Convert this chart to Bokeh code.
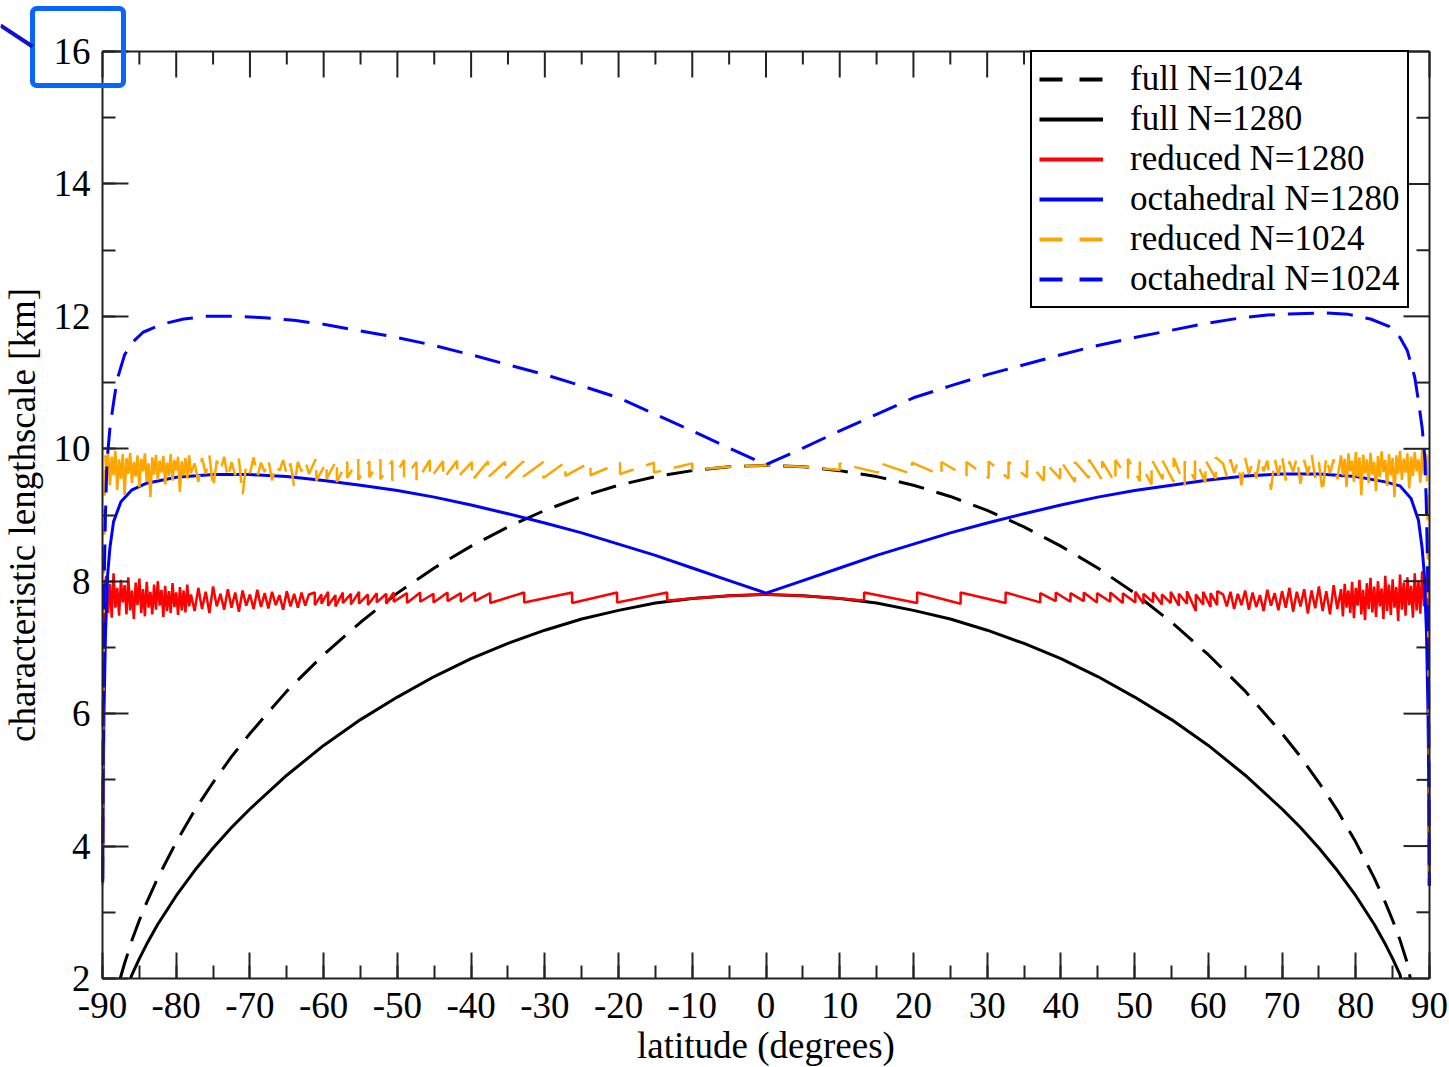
from bokeh.plotting import figure
from bokeh.models import (LinearAxis, Range1d, FixedTicker, Legend, LegendItem,
                          BoxAnnotation, Arrow)
from bokeh.embed import file_html
from bokeh.resources import INLINE
import math

SERIF = "Liberation Serif"

# ---------------------------------------------------------------- data
# full Gaussian grids (smooth curves, down to the bottom of the axis)
LAT_FULL_1024 = [-87.6, -87.0, -86.0, -85.0, -84.0, -82.5, -80.0, -77.5, -75.0, -72.5,
                 -70.0, -65.0, -60.0, -55.0, -50.0, -45.0, -40.0, -35.0, -30.0, -25.0,
                 -20.0, -15.0, -10.0, -5.0, 0.0, 5.0, 10.0, 15.0, 20.0, 25.0,
                 30.0, 35.0, 40.0, 45.0, 50.0, 55.0, 60.0, 65.0, 70.0, 72.5,
                 75.0, 77.5, 80.0, 82.5, 84.0, 85.0, 86.0, 87.0, 87.4]
FULL_1024 = [2.00, 2.23, 2.58, 2.88, 3.15, 3.52, 4.06, 4.54, 4.96, 5.35,
             5.70, 6.34, 6.89, 7.38, 7.82, 8.20, 8.53, 8.82, 9.07, 9.28,
             9.45, 9.58, 9.67, 9.73, 9.75, 9.73, 9.67, 9.58, 9.45, 9.28,
             9.07, 8.82, 8.53, 8.20, 7.82, 7.38, 6.89, 6.34, 5.70, 5.35,
             4.96, 4.54, 4.06, 3.52, 3.15, 2.88, 2.58, 2.23, 2.00]
LAT_FULL_1280 = [-86.2, -86.0, -85.0, -84.0, -82.5, -80.0, -77.5, -75.0, -72.5, -70.0,
                 -65.0, -60.0, -55.0, -50.0, -45.0, -40.0, -35.0, -30.0, -25.0, -20.0,
                 -15.0, -10.0, -5.0, 0.0, 5.0, 10.0, 15.0, 20.0, 25.0, 30.0,
                 35.0, 40.0, 45.0, 50.0, 55.0, 60.0, 65.0, 70.0, 72.5, 75.0,
                 77.5, 80.0, 82.5, 84.0, 85.0, 86.0, 86.1]
FULL_1280 = [2.00, 2.06, 2.30, 2.52, 2.82, 3.25, 3.63, 3.97, 4.28, 4.56,
             5.07, 5.52, 5.91, 6.25, 6.56, 6.83, 7.06, 7.26, 7.43, 7.56,
             7.67, 7.74, 7.78, 7.80, 7.78, 7.74, 7.67, 7.56, 7.43, 7.26,
             7.06, 6.83, 6.56, 6.25, 5.91, 5.52, 5.07, 4.56, 4.28, 3.97,
             3.63, 3.25, 2.82, 2.52, 2.30, 2.06, 2.00]

# octahedral grids
LAT_OCT_1280 = [-89.97, -89.9, -89.8, -89.6, -89.3, -89.0, -88.5, -87.5, -86.0, -84.0,
                -80.0, -75.0, -70.0, -65.0, -60.0, -55.0, -50.0, -45.0, -40.0, -35.0,
                -30.0, -25.0, -20.0, -15.0, -10.0, -5.0, 0.0, 5.0, 10.0, 15.0,
                20.0, 25.0, 30.0, 35.0, 40.0, 45.0, 50.0, 55.0, 60.0, 65.0,
                70.0, 75.0, 80.0, 84.0, 86.0, 87.5, 88.5, 89.0, 89.3, 89.6,
                89.8, 89.9, 89.97]
OCT_1280 = [3.50, 5.00, 6.00, 7.20, 8.10, 8.50, 8.90, 9.20, 9.38, 9.48,
            9.57, 9.61, 9.61, 9.58, 9.52, 9.45, 9.37, 9.27, 9.15, 9.02,
            8.88, 8.73, 8.56, 8.39, 8.20, 8.01, 7.82, 8.01, 8.20, 8.39,
            8.56, 8.73, 8.88, 9.02, 9.15, 9.27, 9.37, 9.45, 9.53, 9.59,
            9.62, 9.62, 9.58, 9.50, 9.44, 9.25, 8.92, 8.50, 8.10, 7.20,
            6.00, 5.00, 3.40]

LAT_OCT_1024 = [-89.97, -89.9, -89.8, -89.6, -89.4, -89.0, -88.5, -88.0, -87.0, -86.0,
                -84.5, -82.0, -79.0, -76.0, -72.0, -68.0, -64.0, -60.0, -55.0, -50.0,
                -45.0, -40.0, -35.0, -30.0, -25.0, -20.0, -15.0, -10.0, -5.0, 0.0,
                5.0, 10.0, 15.0, 20.0, 25.0, 30.0, 35.0, 40.0, 45.0, 50.0,
                55.0, 60.0, 64.0, 68.0, 72.0, 76.0, 79.0, 82.0, 84.5, 86.0,
                87.0, 88.0, 88.5, 89.0, 89.4, 89.6, 89.8, 89.9, 89.97]
OCT_1024 = [3.45, 6.00, 7.80, 9.00, 9.80, 10.30, 10.70, 11.05, 11.42, 11.60,
            11.76, 11.88, 11.96, 12.00, 12.00, 11.98, 11.94, 11.88, 11.78, 11.68,
            11.56, 11.42, 11.27, 11.12, 10.95, 10.77, 10.52, 10.27, 10.01, 9.76,
            10.01, 10.27, 10.52, 10.77, 10.95, 11.12, 11.27, 11.42, 11.56, 11.68,
            11.79, 11.90, 11.97, 12.02, 12.04, 12.05, 12.03, 11.96, 11.85, 11.68,
            11.48, 11.08, 10.72, 10.32, 9.82, 9.02, 7.80, 6.00, 3.40]

# reduced grids: polar drop-off, noisy high latitudes, banded mid latitudes
LAT_POLE_S = [-89.97, -89.9, -89.8, -89.7, -89.6]
LAT_POLE_N = [89.6, 89.7, 89.8, 89.9, 89.97]
RED_POLE_S = [3.50, 5.50, 7.20, 7.90, 8.00]
RED_POLE_N = [8.02, 7.95, 7.20, 5.50, 3.45]
ORA_POLE_S = [3.40, 5.80, 8.00, 9.30, 9.90]
ORA_POLE_N = [9.90, 9.30, 8.00, 5.80, 3.40]

# very high latitudes (closely packed rows)
LAT_DENSE_S = [-89.5, -89.25, -89.0, -88.75, -88.5, -88.25, -88.0, -87.75, -87.5, -87.25,
               -87.0, -86.75, -86.5, -86.25, -86.0, -85.75, -85.5, -85.25, -85.0, -84.75,
               -84.5, -84.25, -84.0, -83.75, -83.5, -83.25, -83.0, -82.75, -82.5, -82.25,
               -82.0, -81.75, -81.5, -81.25, -81.0, -80.75, -80.5, -80.25, -80.0, -79.75,
               -79.5, -79.25, -79.0, -78.75, -78.5, -78.25, -78.0]
LAT_DENSE_N = [78.0, 78.25, 78.5, 78.75, 79.0, 79.25, 79.5, 79.75, 80.0, 80.25,
               80.5, 80.75, 81.0, 81.25, 81.5, 81.75, 82.0, 82.25, 82.5, 82.75,
               83.0, 83.25, 83.5, 83.75, 84.0, 84.25, 84.5, 84.75, 85.0, 85.25,
               85.5, 85.75, 86.0, 86.25, 86.5, 86.75, 87.0, 87.25, 87.5, 87.75,
               88.0, 88.25, 88.5, 88.75, 89.0, 89.25, 89.5]
# high latitudes
LAT_MID_S = [-77.5, -77.0, -76.5, -76.0, -75.5, -75.0, -74.5, -74.0, -73.5, -73.0,
             -72.5, -72.0, -71.5, -71.0, -70.5, -70.0, -69.5, -69.0, -68.5, -68.0,
             -67.5, -67.0, -66.5, -66.0, -65.5, -65.0, -64.5, -64.0, -63.5, -63.0,
             -62.5, -62.0]
LAT_MID_N = [62.0, 62.5, 63.0, 63.5, 64.0, 64.5, 65.0, 65.5, 66.0, 66.5,
             67.0, 67.5, 68.0, 68.5, 69.0, 69.5, 70.0, 70.5, 71.0, 71.5,
             72.0, 72.5, 73.0, 73.5, 74.0, 74.5, 75.0, 75.5, 76.0, 76.5,
             77.0, 77.5]

RED_DENSE_S = [8.08, 7.52, 7.96, 7.45, 8.12, 7.60, 7.90, 7.48, 8.02, 7.68,
               7.94, 7.50, 8.06, 7.56, 7.86, 7.43, 7.98, 7.64, 8.04, 7.52,
               7.88, 7.47, 7.99, 7.60, 7.84, 7.50, 7.95, 7.57, 8.00, 7.63,
               7.87, 7.46, 7.93, 7.55, 7.85, 7.52, 7.97, 7.61, 7.83, 7.49,
               7.91, 7.56, 7.86, 7.53, 7.95, 7.62, 7.80]
RED_MID_S = [7.55, 7.90, 7.58, 7.84, 7.52, 7.92, 7.62, 7.81, 7.57, 7.88,
             7.60, 7.83, 7.54, 7.86, 7.63, 7.80, 7.58, 7.87, 7.61, 7.82,
             7.59, 7.84, 7.64, 7.79, 7.57, 7.85, 7.62, 7.81, 7.60, 7.83,
             7.63, 7.80]
RED_MID_N = [7.80, 7.62, 7.84, 7.58, 7.81, 7.64, 7.86, 7.57, 7.83, 7.61,
             7.79, 7.55, 7.87, 7.63, 7.82, 7.56, 7.85, 7.60, 7.90, 7.54,
             7.84, 7.62, 7.88, 7.51, 7.86, 7.59, 7.92, 7.55, 7.85, 7.50,
             7.94, 7.58]
RED_DENSE_N = [7.88, 7.47, 7.96, 7.60, 7.86, 7.52, 7.99, 7.44, 7.90, 7.63,
               8.02, 7.50, 7.87, 7.41, 7.97, 7.58, 8.05, 7.53, 7.92, 7.46,
               8.00, 7.62, 7.89, 7.43, 8.08, 7.55, 7.95, 7.49, 8.03, 7.60,
               7.91, 7.40, 8.10, 7.57, 7.98, 7.48, 8.06, 7.64, 7.93, 7.45,
               8.12, 7.56, 8.01, 7.51, 8.15, 7.62, 8.05]
ORA_DENSE_S = [9.52, 9.95, 9.45, 9.88, 9.60, 9.97, 9.38, 9.84, 9.55, 9.92,
               9.30, 9.86, 9.62, 9.94, 9.48, 9.80, 9.58, 9.90, 9.42, 9.85,
               9.66, 9.93, 9.50, 9.78, 9.27, 9.87, 9.61, 9.91, 9.53, 9.82,
               9.64, 9.89, 9.46, 9.79, 9.59, 9.92, 9.52, 9.83, 9.67, 9.88,
               9.35, 9.81, 9.60, 9.86, 9.55, 9.90, 9.63]
ORA_MID_S = [9.78, 9.50, 9.86, 9.62, 9.90, 9.40, 9.82, 9.66, 9.88, 9.55,
             9.80, 9.60, 9.85, 9.30, 9.77, 9.63, 9.87, 9.58, 9.79, 9.65,
             9.84, 9.52, 9.76, 9.67, 9.83, 9.60, 9.78, 9.42, 9.80, 9.66,
             9.82, 9.62]
ORA_MID_N = [9.78, 9.58, 9.84, 9.64, 9.80, 9.45, 9.86, 9.62, 9.79, 9.55,
             9.88, 9.66, 9.82, 9.38, 9.85, 9.60, 9.90, 9.52, 9.81, 9.65,
             9.87, 9.47, 9.83, 9.61, 9.92, 9.56, 9.80, 9.33, 9.89, 9.63,
             9.84, 9.54]
ORA_DENSE_N = [9.90, 9.60, 9.85, 9.42, 9.93, 9.66, 9.82, 9.50, 9.95, 9.58,
               9.87, 9.30, 9.91, 9.63, 9.84, 9.48, 9.94, 9.61, 9.80, 9.36,
               9.89, 9.57, 9.96, 9.65, 9.83, 9.44, 9.92, 9.60, 9.86, 9.27,
               9.90, 9.62, 9.97, 9.53, 9.85, 9.64, 9.93, 9.40, 9.88, 9.59,
               9.95, 9.66, 9.84, 9.49, 9.98, 9.61, 9.92]

# band edges of the reduced grids: value on the polar side / equatorial side
RED_BAND_LAT_S = [-61.2, -60.3, -59.4, -58.4, -57.4, -56.3, -55.2, -54.0, -52.8, -51.5,
                  -50.5, -48.7, -46.9, -45.1, -43.2, -41.4, -39.5, -37.4, -32.8, -26.3,
                  -20.2, -13.4]
RED_BAND_POLAR_S = [7.83, 7.80, 7.84, 7.79, 7.83, 7.81, 7.84, 7.80, 7.82, 7.81,
                    7.83, 7.82, 7.83, 7.81, 7.83, 7.82, 7.83, 7.82, 7.83, 7.83,
                    7.83, 7.83]
RED_BAND_EQ_S = [7.64, 7.66, 7.63, 7.62, 7.67, 7.65, 7.66, 7.64, 7.68, 7.66,
                 7.69, 7.67, 7.69, 7.68, 7.70, 7.69, 7.70, 7.67, 7.68, 7.67,
                 7.68, 7.71]
RED_BAND_LAT_N = [13.3, 20.5, 26.4, 32.5, 37.2, 39.3, 41.3, 43.1, 44.9, 46.7,
                  48.4, 50.1, 51.2, 52.5, 53.7, 54.9, 56.0, 57.1, 58.3, 59.3,
                  60.3, 61.2]
RED_BAND_EQ_N = [7.71, 7.67, 7.66, 7.67, 7.68, 7.70, 7.69, 7.70, 7.68, 7.69,
                 7.67, 7.68, 7.66, 7.68, 7.65, 7.67, 7.63, 7.66, 7.55, 7.65,
                 7.61, 7.64]
RED_BAND_POLAR_N = [7.83, 7.83, 7.83, 7.83, 7.82, 7.83, 7.82, 7.83, 7.82, 7.83,
                    7.82, 7.84, 7.81, 7.83, 7.80, 7.84, 7.81, 7.85, 7.80, 7.84,
                    7.82, 7.85]
RED_EQ_LAT = [-10.0, -5.0, 0.0, 5.0, 10.0]
RED_EQ = [7.74, 7.78, 7.80, 7.78, 7.74]

ORA_BAND_LAT_S = [-61.0, -59.6, -58.2, -56.8, -55.3, -53.8, -52.3, -50.7, -49.1, -47.4,
                  -45.6, -43.8, -41.9, -39.9, -37.7, -35.4, -32.9, -30.2, -27.2, -23.8,
                  -19.8, -15.2, -10.0]
ORA_BAND_POLAR_S = [9.86, 9.80, 9.84, 9.82, 9.85, 9.81, 9.84, 9.82, 9.83, 9.80,
                    9.83, 9.81, 9.82, 9.80, 9.81, 9.80, 9.81, 9.80, 9.80, 9.80,
                    9.79, 9.79, 9.78]
ORA_BAND_EQ_S = [9.52, 9.55, 9.50, 9.56, 9.53, 9.57, 9.54, 9.52, 9.56, 9.50,
                 9.55, 9.54, 9.56, 9.52, 9.57, 9.55, 9.58, 9.56, 9.59, 9.60,
                 9.62, 9.64, 9.68]
ORA_BAND_LAT_N = [10.0, 15.2, 19.8, 23.8, 27.2, 30.2, 32.9, 35.4, 37.7, 39.9,
                  41.9, 43.8, 45.6, 47.4, 49.1, 50.7, 52.3, 53.8, 55.3, 56.8,
                  58.2, 59.6, 61.0]
ORA_BAND_EQ_N = [9.68, 9.64, 9.62, 9.60, 9.58, 9.56, 9.55, 9.57, 9.52, 9.55,
                 9.50, 9.56, 9.53, 9.48, 9.55, 9.51, 9.46, 9.54, 9.50, 9.44,
                 9.53, 9.49, 9.55]
ORA_BAND_POLAR_N = [9.78, 9.79, 9.79, 9.80, 9.80, 9.81, 9.80, 9.82, 9.81, 9.83,
                    9.80, 9.84, 9.81, 9.83, 9.85, 9.80, 9.84, 9.82, 9.86, 9.81,
                    9.85, 9.83, 9.87]
ORA_EQ_LAT = [-5.0, 0.0, 5.0]
ORA_EQ = [9.73, 9.75, 9.73]

X_TICKS = list(range(-90, 91, 10))
X_MINOR = list(range(-85, 90, 10))
Y_TICKS = list(range(2, 17, 2))
Y_MINOR = list(range(3, 16, 2))

LEGEND = [("full N=1024", "black", "dashed"),
          ("full N=1280", "black", "solid"),
          ("reduced N=1280", "red", "solid"),
          ("octahedral N=1280", "blue", "solid"),
          ("reduced N=1024", "orange", "dashed"),
          ("octahedral N=1024", "blue", "dashed")]


def banded(band_lat_s, band_polar_s, band_eq_s, eq_lat, eq_val,
           band_lat_n, band_eq_n, band_polar_n):
    """Mid-latitude part of a reduced grid: jumps at every band edge."""
    xs, ys = [], []
    for b, hi, lo in zip(band_lat_s, band_polar_s, band_eq_s):
        xs += [b, b]; ys += [hi, lo]
    xs += eq_lat; ys += eq_val
    for b, lo, hi in zip(band_lat_n, band_eq_n, band_polar_n):
        xs += [b, b]; ys += [lo, hi]
    return xs, ys


def join(*parts):
    xs, ys = [], []
    for px, py in parts:
        xs += px; ys += py
    return xs, ys


red_mid = banded(RED_BAND_LAT_S, RED_BAND_POLAR_S, RED_BAND_EQ_S, RED_EQ_LAT, RED_EQ,
                 RED_BAND_LAT_N, RED_BAND_EQ_N, RED_BAND_POLAR_N)
red_x, red_y = join((LAT_POLE_S, RED_POLE_S), (LAT_DENSE_S, RED_DENSE_S),
                    (LAT_MID_S, RED_MID_S), red_mid,
                    (LAT_MID_N, RED_MID_N), (LAT_DENSE_N, RED_DENSE_N),
                    (LAT_POLE_N, RED_POLE_N))

ora_mid = banded(ORA_BAND_LAT_S, ORA_BAND_POLAR_S, ORA_BAND_EQ_S, ORA_EQ_LAT, ORA_EQ,
                 ORA_BAND_LAT_N, ORA_BAND_EQ_N, ORA_BAND_POLAR_N)
# the closely packed polar rows overlap into a solid band; the rest shows its dashes
ora_dense_s = join((LAT_POLE_S[-1:], ORA_POLE_S[-1:]), (LAT_DENSE_S, ORA_DENSE_S),
                   (LAT_MID_S[:1], ORA_MID_S[:1]))
ora_dense_n = join((LAT_MID_N[-1:], ORA_MID_N[-1:]), (LAT_DENSE_N, ORA_DENSE_N),
                   (LAT_POLE_N[:1], ORA_POLE_N[:1]))
ora_main = join((LAT_MID_S, ORA_MID_S), ora_mid, (LAT_MID_N, ORA_MID_N))

# ---------------------------------------------------------------- figure
X0, X1, Y0, Y1 = -90, 90, 2, 16
W, H = 1449, 1067
LEFT, RIGHT, TOP, BOTTOM = 102, 20, 51, 89          # margins around the data box (px)
PX_PER_X = (W - LEFT - RIGHT) / (X1 - X0)
PX_PER_Y = (H - TOP - BOTTOM) / (Y1 - Y0)

# the plotting frame covers the whole canvas: both axes are pinned to the data
# box, so nothing around it (labels, the highlight box) gets clipped
p = figure(width=W, height=H,
           x_range=Range1d(X0 - LEFT / PX_PER_X, X1 + RIGHT / PX_PER_X),
           y_range=Range1d(Y0 - BOTTOM / PX_PER_Y, Y1 + TOP / PX_PER_Y),
           output_backend="svg", toolbar_location=None,
           x_axis_location=None, y_axis_location=None,
           min_border=0)
p.grid.visible = False
p.outline_line_color = None
p.background_fill_color = "white"
p.border_fill_color = "white"

DASH = "26 13"
p.line(LAT_FULL_1024, FULL_1024, line_color="black", line_width=3, line_dash=DASH)
p.line(LAT_FULL_1280, FULL_1280, line_color="black", line_width=3)
p.line(red_x, red_y, line_color="red", line_width=2.5)
p.line(LAT_OCT_1280, OCT_1280, line_color="blue", line_width=3)
p.multi_line([LAT_POLE_S, ora_main[0], LAT_POLE_N], [ORA_POLE_S, ora_main[1], ORA_POLE_N],
             line_color="orange", line_width=2.5, line_dash=DASH)
p.multi_line([ora_dense_s[0], ora_dense_n[0]], [ora_dense_s[1], ora_dense_n[1]],
             line_color="orange", line_width=2.5)
p.line(LAT_OCT_1024, OCT_1024, line_color="blue", line_width=3, line_dash=DASH)

FONT_PX = "37px"
EDGE = "#222222"


def frame_axis(major, minor, bounds):
    ax = LinearAxis(ticker=FixedTicker(ticks=major, minor_ticks=minor), bounds=bounds)
    ax.major_tick_in = 26
    ax.major_tick_out = 0
    ax.minor_tick_in = 13
    ax.minor_tick_out = 0
    ax.axis_line_width = 2
    ax.axis_line_color = EDGE
    ax.major_tick_line_width = 2
    ax.major_tick_line_color = EDGE
    ax.minor_tick_line_width = 2
    ax.minor_tick_line_color = EDGE
    ax.major_label_overrides = {t: str(t) for t in major}
    ax.major_label_text_font = SERIF
    ax.major_label_text_font_size = FONT_PX
    ax.major_label_text_color = "black"
    ax.axis_label_text_font = SERIF
    ax.axis_label_text_font_size = FONT_PX
    ax.axis_label_text_font_style = "normal"
    ax.axis_label_text_color = "black"
    return ax


xb = frame_axis(X_TICKS, X_TICKS + X_MINOR, (X0, X1))
xb.fixed_location = Y0
xb.axis_label = "latitude (degrees)"
xb.axis_label_standoff = 4
xb.major_label_standoff = 14
p.add_layout(xb, "below")

yl = frame_axis(Y_TICKS, Y_TICKS + Y_MINOR, (Y0, Y1))
yl.fixed_location = X0
yl.axis_label = "characteristic lengthscale [km]"
yl.axis_label_standoff = 8
yl.major_label_standoff = 12
p.add_layout(yl, "left")

# top and right edges of the data box, with inward ticks
p.segment(x0=[X0, X1], y0=[Y1, Y0], x1=[X1, X1], y1=[Y1, Y1],
          line_color=EDGE, line_width=2)
TICK_STYLE = dict(line_color=EDGE, line_width=2, length_units="screen")
p.ray(x=X_TICKS, y=[Y1] * len(X_TICKS), length=26, angle=-math.pi / 2, **TICK_STYLE)
p.ray(x=X_MINOR, y=[Y1] * len(X_MINOR), length=13, angle=-math.pi / 2, **TICK_STYLE)
p.ray(x=[X1] * len(Y_TICKS), y=Y_TICKS, length=26, angle=math.pi, **TICK_STYLE)
p.ray(x=[X1] * len(Y_MINOR), y=Y_MINOR, length=13, angle=math.pi, **TICK_STYLE)

# legend with thicker sample strokes (single-point proxies draw nothing in the frame)
items = []
for label, color, dash in LEGEND:
    r = p.line(x=[LAT_FULL_1024[0]], y=[FULL_1024[0]], line_color=color, line_width=4,
               line_dash="23 17" if dash == "dashed" else "solid")
    items.append(LegendItem(label=label, renderers=[r]))
legend = Legend(items=items, location=(1030, 759), margin=0,
                border_line_color="black", border_line_width=2, border_line_alpha=1.0,
                background_fill_color="white", background_fill_alpha=1.0,
                label_text_font=SERIF, label_text_font_size="35px",
                label_text_color="black",
                glyph_width=64, glyph_height=20, label_height=36,
                spacing=0, padding=7, label_standoff=27)
p.add_layout(legend)

# highlight box around the top value label, with its pointer line
# (screen units are measured from the canvas' lower-left corner)
p.add_layout(BoxAnnotation(left=32, right=123, top=H - 8, bottom=H - 85,
                           left_units="screen", right_units="screen",
                           top_units="screen", bottom_units="screen",
                           fill_alpha=0, line_color="#0a64ff", line_alpha=1.0,
                           line_width=5, border_radius=4))
p.add_layout(Arrow(end=None, x_start=0, y_start=H - 25, x_end=32, y_end=H - 46,
                   start_units="screen", end_units="screen",
                   line_color="#1010d0", line_width=4))

open("out.html", "w").write(file_html(p, INLINE))
